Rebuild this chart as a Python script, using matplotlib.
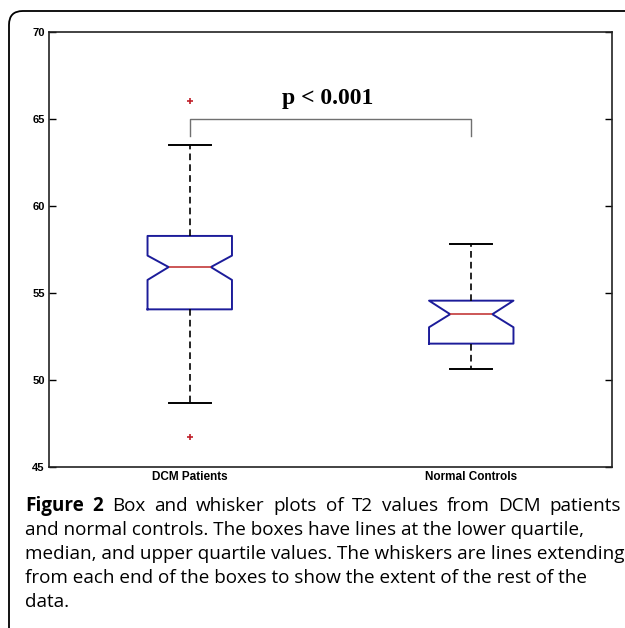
import matplotlib
matplotlib.use("Agg")
import matplotlib.pyplot as plt
from matplotlib.patches import FancyBboxPatch


# values
groups = ["DCM Patients", "Normal Controls"]
q1 = [54.06, 52.09]
med = [56.49, 53.78]
q3 = [58.28, 54.56]
whislo = [48.66, 50.65]
whishi = [63.5, 57.83]
cilo = [55.75, 53.03]
cihi = [57.15, 54.56]
outliers = [[66.03, 46.74], []]

yticks = [45, 50, 55, 60, 65, 70]
bracket_y = [64.0, 65.0]
p_text = "p < 0.001"

caption_bold = "Figure 2"
caption_lines = [
    "Box and whisker plots of T2 values from DCM patients",
    "and normal controls. The boxes have lines at the lower quartile,",
    "median, and upper quartile values. The whiskers are lines extending",
    "from each end of the boxes to show the extent of the rest of the",
    "data.",
]

W, H = 625, 628
fig = plt.figure(figsize=(W / 100, H / 100), dpi=100)

# outer rounded frame, runs off the right and bottom edge
frame = FancyBboxPatch((9 / W, -0.2), 1.2, 1 - 11 / H + 0.2,
                       boxstyle="round,pad=0,rounding_size=0.022",
                       transform=fig.transFigure, fill=False,
                       edgecolor="black", linewidth=1.3)
fig.patches.append(frame)

ax = fig.add_axes([49 / W, 1 - 467 / H, (612 - 49) / W, (467 - 32) / H])

stats = []
for i in range(len(groups)):
    stats.append(dict(label=groups[i], q1=q1[i], med=med[i], q3=q3[i],
                      whislo=whislo[i], whishi=whishi[i],
                      cilo=cilo[i], cihi=cihi[i], fliers=outliers[i]))

ax.bxp(stats, positions=[1, 2], widths=0.3, shownotches=True,
       boxprops=dict(color="#1c1c9a", linewidth=1.4),
       medianprops=dict(color="#c43a3a", linewidth=1.2),
       whiskerprops=dict(color="black", linewidth=1.2, linestyle=(0, (4, 2.5))),
       capprops=dict(color="black", linewidth=1.4),
       flierprops=dict(marker="+", markeredgecolor="#c0202a",
                       markersize=5, markeredgewidth=1.2))

# significance bracket
ax.plot([1, 1, 2, 2], [bracket_y[0], bracket_y[1], bracket_y[1], bracket_y[0]],
        color="#707070", linewidth=1.0)
ax.text(1.49, 66.2, p_text, ha="center", va="center", fontsize=17,
        fontweight="bold", family="Liberation Serif")

ax.set_xlim(0.5, 2.5)
ax.set_ylim(45, 70)
ax.set_yticks(yticks)
ax.set_yticklabels([str(v) for v in yticks], fontsize=8, fontweight="bold",
                   family="Liberation Sans")
ax.set_xticks([1, 2])
ax.set_xticklabels(groups, fontsize=8.5, fontweight="bold", family="Liberation Sans")
ax.tick_params(axis="y", direction="in", length=5, width=1, right=True, pad=3)
ax.tick_params(axis="x", length=0, pad=3)
for s in ax.spines.values():
    s.set_linewidth(1.2)
    s.set_color("#222222")

# caption
x0, x1 = 25, 621
cap_size = 13.6
r = fig.canvas.get_renderer()

# first line is justified: measure every word, spread the gaps
words = [(w, "bold") for w in caption_bold.split()] + \
        [(w, "normal") for w in caption_lines[0].split()]
texts = []
total = 0
for w, wt in words:
    t = fig.text(0, 1 - 511 / H, w, fontsize=cap_size, fontweight=wt,
                 family="Open Sans", va="baseline", ha="left")
    wd = t.get_window_extent(renderer=r).width
    texts.append((t, wd))
    total += wd
gap = (x1 - x0 - total) / (len(words) - 1)
x = x0
for t, wd in texts:
    t.set_x(x / W)
    x += wd + gap

baselines = [535, 559, 583, 607]
for line, yb in zip(caption_lines[1:], baselines):
    fig.text(x0 / W, 1 - yb / H, line, fontsize=cap_size, family="Open Sans",
             va="baseline", ha="left")

fig.savefig("out.png", dpi=100)
